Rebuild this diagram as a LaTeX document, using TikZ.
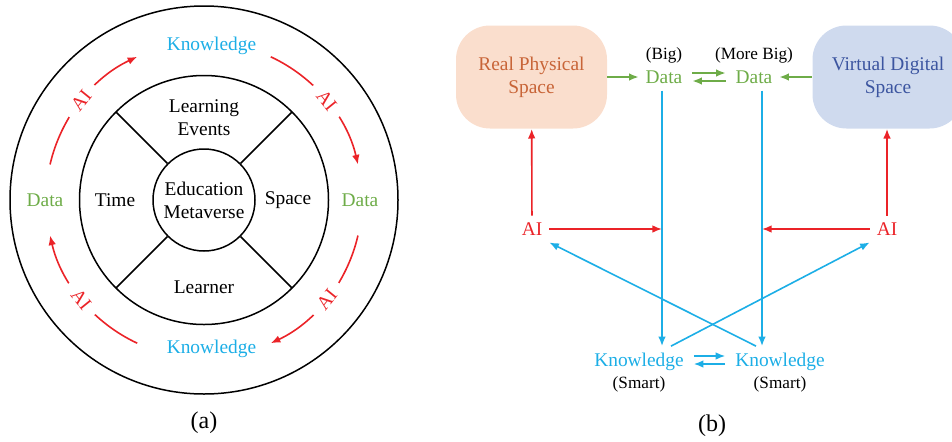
\documentclass[tikz,border=0pt]{standalone}
\usepackage{fontspec}
\setmainfont{Liberation Serif}
\usepackage{xcolor}
\usepackage{tikz}
\usetikzlibrary{arrows.meta,positioning,calc}
\definecolor{aired}{RGB}{235,35,40}
\definecolor{datagreen}{RGB}{110,172,72}
\definecolor{knowblue}{RGB}{28,174,230}
\definecolor{realfill}{RGB}{250,222,205}
\definecolor{realtext}{RGB}{200,100,55}
\definecolor{virtfill}{RGB}{207,218,238}
\definecolor{virttext}{RGB}{60,85,160}
\newcommand{\mainsz}{\fontsize{9.7}{11.5}\selectfont}
\newcommand{\smallsz}{\fontsize{8.6}{10}\selectfont}
\newcommand{\capsz}{\fontsize{12}{14}\selectfont}

\begin{document}
\begin{tikzpicture}[x=5pt,y=5pt,>={Latex[length=4.8pt,width=3.8pt]},
    every node/.style={font=\mainsz},
    ringline/.style={line width=0.75pt,black},
    redarr/.style={->,line width=0.8pt,aired},
    greenarr/.style={->,line width=0.8pt,datagreen},
    bluearr/.style={->,line width=0.8pt,knowblue},
    smalltxt/.style={font=\smallsz,text=black,inner sep=0pt},
    spacebox/.style={rounded corners=17pt,minimum width=75.5pt,minimum height=51.5pt,align=center}]
    \useasboundingbox (0,0) rectangle (95.2,44.1);
    \clip (0,0) rectangle (95.2,44.1);

    % (a) Rings
    \coordinate (c) at (20.4,24.1);
    \draw[ringline] (c) circle (19.4);
    \draw[ringline] (c) circle (12.45);
    \node[circle,draw,ringline,minimum size=51pt,inner sep=0pt,align=center] (edu) at (c) {Education\\Metaverse};
    \foreach \a in {45,135,225,315}
        \draw[ringline] (edu.\a) -- ($(c)+(\a:12.45)$);

    % Sectors
    \node[align=center] (events) at (20.4,32.3) {Learning\\Events};
    \node (time) at (11.5,24.1) {Time};
    \node (space) at (28.8,24.1) {Space};
    \node (learner) at (20.4,15.4) {Learner};

    % Outer ring labels
    \node[knowblue] (ktop) at (21.15,39.5) {Knowledge};
    \node[knowblue] (kbot) at (21.15,9.2) {Knowledge};
    \node[datagreen] (dleft) at (4.5,24.1) {Data};
    \node[datagreen] (dright) at (36.0,24.1) {Data};

    % AI cycle
    \foreach \s/\e/\m/\r [count=\i] in {167/115/141/51, 65/13/39/-51, -13/-65/-39/51, -115/-167/-141/-51} {
        \draw[redarr] ($(c)+(\s:15.8)$) arc[start angle=\s,end angle=\e,radius=15.8];
        \node[aired,fill=white,rotate=\r,inner xsep=5pt,inner ysep=1pt] (cycai\i) at ($(c)+(\m:15.8)$) {AI};
    }

    % (b) Spaces
    \node[spacebox,fill=realfill,text=realtext] (real) at (53.15,36.4) {Real Physical\\Space};
    \node[spacebox,fill=virtfill,text=virttext] (virt) at (88.8,36.4) {Virtual Digital\\Space};

    % Data and knowledge
    \node[datagreen,label={[smalltxt]above:(Big)}] (bigdata) at (66.4,36.4) {Data};
    \node[datagreen,label={[smalltxt]above:(More Big)}] (morebigdata) at (75.4,36.4) {Data};
    \node[knowblue,label={[smalltxt,label distance=-1pt]below:(Smart)}] (know1) at (63.9,7.9) {Knowledge};
    \node[knowblue,label={[smalltxt,label distance=-1pt]below:(Smart)}] (know2) at (78.0,7.9) {Knowledge};
    \node[aired] (aileft) at (53.2,21.2) {AI};
    \node[aired] (airight) at (88.7,21.2) {AI};
    \coordinate (bigtop) at ([xshift=-1pt]bigdata.south);
    \coordinate (moretop) at ([xshift=4pt]morebigdata.south);

    % Green flows
    \draw[greenarr] (real) -- (bigdata);
    \draw[greenarr] (virt) -- (morebigdata);
    \draw[greenarr,shorten <=1.5pt,shorten >=1.5pt] ([yshift=2pt]bigdata.east) -- ([yshift=2pt]morebigdata.west);
    \draw[greenarr,shorten <=1.5pt,shorten >=1.5pt] ([yshift=-2pt]morebigdata.west) -- ([yshift=-2pt]bigdata.east);

    % Blue flows
    \draw[bluearr] (bigtop) -- (bigtop |- know1.north);
    \draw[bluearr] (moretop) -- (moretop |- know2.north);
    \draw[bluearr] ([xshift=16pt]know1.north) -- (airight.south west);
    \draw[bluearr] ([xshift=-12pt]know2.north) -- (aileft.south east);
    \draw[bluearr,shorten <=1.5pt,shorten >=1.5pt] ([yshift=3pt]know1.east) -- ([yshift=3pt]know2.west);
    \draw[bluearr,shorten <=1.5pt,shorten >=1.5pt] ([yshift=-1pt]know2.west) -- ([yshift=-1pt]know1.east);

    % Red flows
    \draw[redarr] (aileft) -- (real);
    \draw[redarr] (aileft) -- (aileft -| bigtop);
    \draw[redarr] (airight) -- (airight -| moretop);
    \draw[redarr] (airight) -- (airight |- virt.south);

    % Captions
    \node[font=\capsz] (capa) at (20.4,1.8) {(a)};
    \node[font=\capsz] (capb) at (71.2,1.5) {(b)};
\end{tikzpicture}
\end{document}
